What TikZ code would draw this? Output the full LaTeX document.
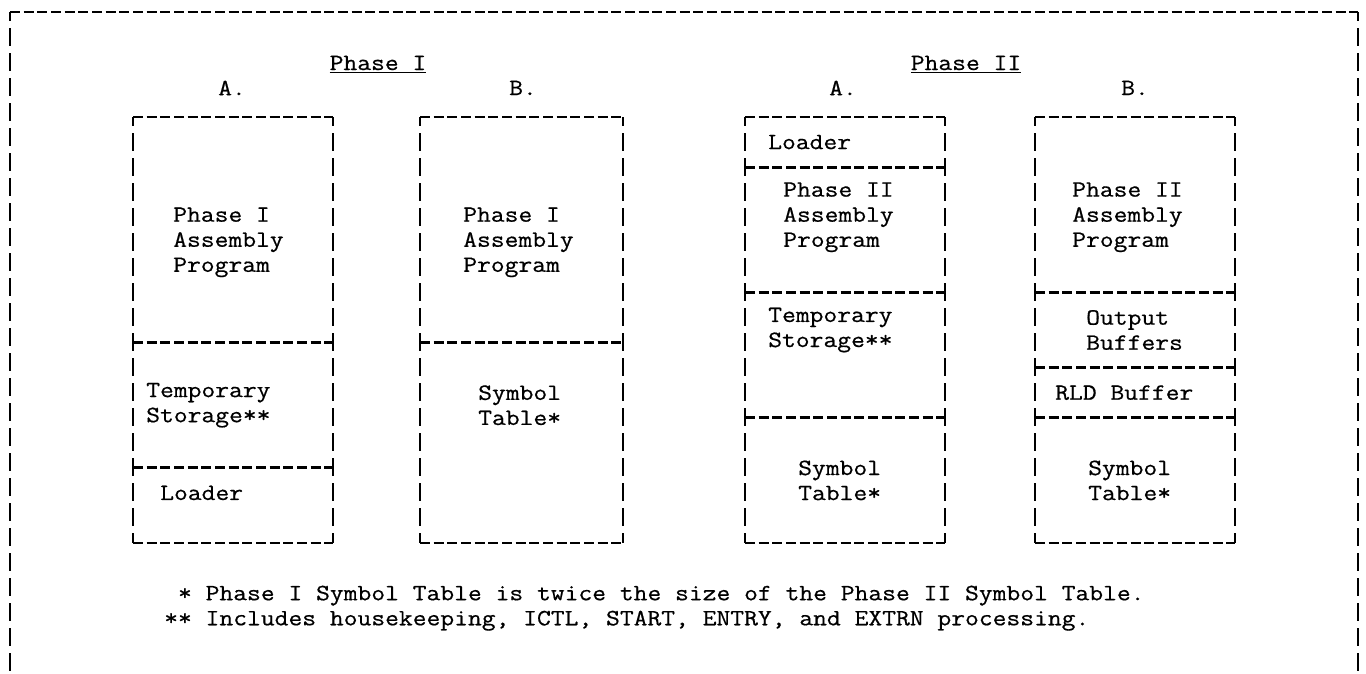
\documentclass[tikz,border=0pt]{standalone}
\usepackage{fontspec}
\setmonofont[FakeStretch=1.15,FakeBold=0.6]{Latin Modern Mono}
\usepackage{tikz}
\usetikzlibrary{positioning}
\tikzset{
  hrule/.style={line width=2.4pt,dash pattern=on 3mm off 1.1mm},
  vrule/.style={line width=2.4pt,dash pattern=on 5.2mm off 2.3mm,dash phase=2.6mm},
  txt/.style={anchor=west,align=left,inner sep=0pt,
    font=\ttfamily\fontsize{19.9}{21.4}\selectfont},
  head/.style={inner sep=0pt,font=\ttfamily\fontsize{19.9}{21.4}\selectfont}
}

\begin{document}
\begin{tikzpicture}[x=0.3mm,y=-7.518mm]
  \useasboundingbox (0,-4.669) rectangle (1366,22.187);
  \draw[hrule] (10,-4.19) -- (1358,-4.19);
  \draw[vrule] (10,-4.19) -- (10,22.187);
  \draw[vrule] (1358,-4.19) -- (1358,22.187);
  \foreach \xa/\xb in {133/333,420/623,745/945,1035/1235}{
    \draw[hrule] (\xa,0) -- (\xb,0);
    \draw[hrule] (\xa,17) -- (\xb,17);
    \draw[vrule] (\xa,0) -- (\xa,17);
    \draw[vrule] (\xb,0) -- (\xb,17);
  }
  \foreach \xa/\xb/\r in {133/333/9,133/333/14,420/623/9,745/945/2,745/945/7,
      745/945/12,1035/1235/7,1035/1235/10,1035/1235/12}
    \draw[hrule] (\xa,\r) -- (\xb,\r);
  \node[head] (ph1) at (378,-2.11) {\underline{Phase I}};
  \node[head] (ph2) at (966,-2.11) {\underline{Phase II}};
  \node[head] (a1) at (232,-1.16) {A.};
  \node[head] (b1) at (523,-1.16) {B.};
  \node[head] (a2) at (843,-1.16) {A.};
  \node[head] (b2) at (1135,-1.16) {B.};
  \node[txt] (prog1a) at (173,5) {Phase I\\Assembly\\Program};
  \node[txt] (temp1a) at (146,11.5) {Temporary\\Storage**};
  \node[txt] (load1a) at (160,15) {Loader};
  \node[txt] (prog1b) at (463,5) {Phase I\\Assembly\\Program};
  \node[txt] (sym1b) at (478,11.5) {Symbol\\Table*};
  \node[txt] (load2a) at (768,1) {Loader};
  \node[txt] (prog2a) at (783,4) {Phase II\\Assembly\\Program};
  \node[txt] (temp2a) at (768,8.5) {Temporary\\Storage**};
  \node[txt] (sym2a) at (798,14.5) {Symbol\\Table*};
  \node[txt] (prog2b) at (1072,4) {Phase II\\Assembly\\Program};
  \node[txt] (out2b) at (1086,8.5) {Output\\Buffers};
  \node[txt] (rld2b) at (1055,11) {RLD Buffer};
  \node[txt] (sym2b) at (1088,14.5) {Symbol\\Table*};
  \node[txt] (notes) at (164,19.6) {\hphantom{*}* Phase I Symbol Table is twice the size of the Phase II Symbol Table.\\** Includes housekeeping, ICTL, START, ENTRY, and EXTRN processing.};
\end{tikzpicture}
\end{document}
